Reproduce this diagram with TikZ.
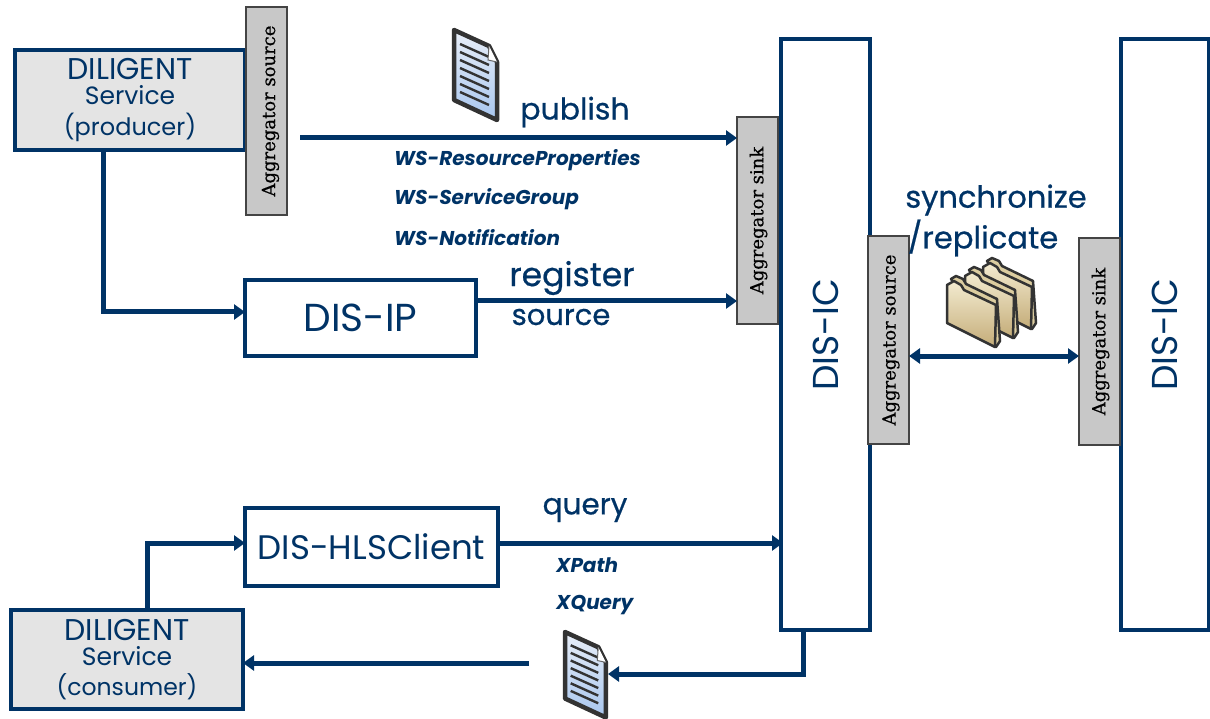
\documentclass[tikz,border=0pt]{standalone}
\usepackage{graphicx}
\usepackage{fontspec}
\setmainfont{Poppins}
\newfontfamily\lblfont[FakeBold=0.6]{Poppins}
\newfontfamily\aggfont[FakeBold=0.5]{DejaVu Serif}
\usetikzlibrary{arrows.meta,calc}
\definecolor{navy}{HTML}{003366}
\definecolor{svc}{HTML}{E4E4E4}
\definecolor{agg}{HTML}{C8C8C8}
\definecolor{aggline}{HTML}{444444}
\definecolor{foldtop}{HTML}{F3EBD0}
\definecolor{foldbot}{HTML}{C4AC78}
\definecolor{foldback}{HTML}{DCCDA0}
\definecolor{doctop}{HTML}{E8EEF8}
\definecolor{docbot}{HTML}{A8C6EE}
\newcommand{\rot}[1]{\rotatebox{90}{#1}}
\newcommand{\sz}[1]{\fontsize{#1}{31}\selectfont}
\tikzset{
  x=1pt,y=-1pt,
  box/.style={draw=navy,line width=4pt,fill=white,inner sep=0pt,outer sep=0pt,text=navy,align=center},
  service/.style={box,fill=svc},
  aggbox/.style={draw=aggline,line width=2.2pt,fill=agg,inner sep=0pt,outer sep=0pt,text=black,font=\aggfont\fontsize{18}{20}\selectfont},
  lbl/.style={text=navy,inner sep=0pt,font=\lblfont},
  spec/.style={text=navy,inner sep=0pt,anchor=west,font=\fontsize{20}{24}\bfseries\itshape\selectfont},
  conn/.style={draw=navy,line width=5pt,-{Triangle[length=11pt,width=15pt]}},
  pics/docicon/.style={code={
    \draw[draw=black!80,line width=4.5pt,line join=round,top color=doctop,bottom color=docbot]
      (0,0) -- (35,16) -- (43,32) -- (43,90) -- (0,70) -- cycle;
    \foreach \i in {0,...,6}{
      \draw[black!80,line width=2.4pt] (6,14+\i*8) -- (35,27+\i*8);
    }
    \draw[black!60,fill=white,line width=1pt] (35,16) -- (34,30) -- (43,32);
  }},
  pics/foldericon/.style={code={
    \draw[draw=black!80,line width=2.5pt,line join=round,fill=foldback]
      (4,-6) -- (9,-9) -- (16,-6) -- (19,-1) -- (50,14) -- (53,56) -- (49,62) -- cycle;
    \draw[draw=black!80,line width=2.5pt,line join=round,top color=foldtop,bottom color=foldbot]
      (0,0) -- (7,-4) -- (14,0) -- (17,5) -- (49,20) -- (48,62) -- (0,38) -- cycle;
  }}
}
\begin{document}
\begin{tikzpicture}
\useasboundingbox (0,0) rectangle (1210,719);
% DIS-IC columns
\node[box,minimum width=89pt,minimum height=591pt,font=\sz{36}] (ic1) at (825.5,334.5) {\rot{DIS-IC}};
\node[box,minimum width=88pt,minimum height=591pt,font=\sz{36}] (ic2) at (1165,334.5) {\rot{DIS-IC}};
% services
\node[service,minimum width=230pt,minimum height=100pt] (prod) at (130,100) {\sz{30}DILIGENT\\[5pt]\sz{25}Service\\[7pt]\sz{24}(producer)};
\node[service,minimum width=232pt,minimum height=99pt] (cons) at (127,659.5) {\sz{30}DILIGENT\\[5pt]\sz{25}Service\\[7pt]\sz{23.5}(consumer)};
\node[box,minimum width=231pt,minimum height=76pt,font=\sz{39}] (ip) at (360.5,318) {DIS-IP};
\node[box,minimum width=253pt,minimum height=78pt,font=\sz{34}] (hls) at (371.5,547) {DIS-HLSClient};
% aggregators
\node[aggbox,minimum width=41pt,minimum height=208pt] (as1) at (266.5,111) {\hspace*{8pt}\rot{Aggregator source}};
\node[aggbox,minimum width=41pt,minimum height=207pt] (ak1) at (757.5,220.5) {\hspace*{2pt}\rot{Aggregator sink}};
\node[aggbox,minimum width=41pt,minimum height=208pt] (as2) at (888.5,340) {\hspace*{5pt}\rot{Aggregator source}};
\node[aggbox,minimum width=41pt,minimum height=207pt] (ak2) at (1099.5,341.5) {\hspace*{2pt}\rot{Aggregator sink}};
% free ends
\coordinate (pubstart) at (300,138);
\coordinate (regy) at (0,301);
\coordinate (elbowp) at (103,312);
\coordinate (elbowc) at (147,543);
\coordinate (qend) at (783,543);
\coordinate (retstart) at (803,630);
\coordinate (retend) at (608,674);
\coordinate (backstart) at (529,663);
\coordinate (synct) at (0,356);
% connectors
\draw[conn] (pubstart) -- (pubstart -| ak1.west);
\draw[conn] (ip.east |- regy) -- (ak1.west |- regy);
\draw[conn] (prod.south -| elbowp) -- (elbowp) -- (ip.west |- elbowp);
\draw[conn] (cons.north -| elbowc) -- (elbowc) -- (hls.west |- elbowc);
\draw[conn] (hls.east |- qend) -- (qend);
\draw[conn,{Triangle[length=11pt,width=15pt]}-{Triangle[length=11pt,width=15pt]}] (as2.east |- synct) -- (ak2.west |- synct);
\draw[conn] (retstart) |- (retend);
\draw[conn] (backstart) -- (cons.east |- backstart);
% labels
\node[lbl,font=\lblfont\sz{30}] (t1) at (575,112) {publish};
\node[lbl,font=\lblfont\sz{33}] (t2) at (572,278) {register};
\node[lbl,font=\lblfont\sz{29}] (t3) at (561,317) {source};
\node[lbl,font=\lblfont\sz{29.5}] (t4) at (585,510) {query};
\node[lbl,font=\lblfont\sz{30.5}] (t5) at (996,200) {synchronize};
\node[lbl,font=\lblfont\sz{30.7}] (t6) at (983,238) {/replicate};
\node[spec] (s1) at (394,160) {WS-ResourceProperties};
\node[spec] (s2) at (394,199) {WS-ServiceGroup};
\node[spec] (s3) at (394,238) {WS-Notification};
\node[spec] (s4) at (556,565) {XPath};
\node[spec] (s5) at (556,605) {XQuery};
% icons
\pic at (454,30) {docicon};
\pic[scale=.95] at (565,632) {docicon};
\pic at (983,267) {foldericon};
\pic at (965,276) {foldericon};
\pic at (947,285) {foldericon};
\end{tikzpicture}
\end{document}
